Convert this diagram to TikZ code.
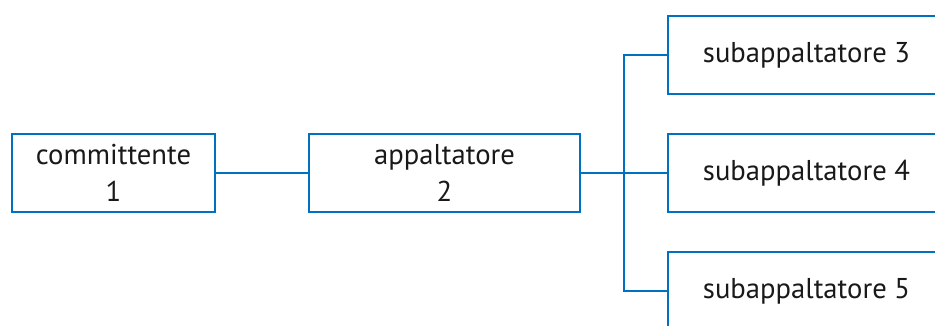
\documentclass[tikz,border=0pt]{standalone}
\usepackage{fontspec}
\setmainfont{PT Sans}
\definecolor{boxblue}{HTML}{0070C0}
\tikzset{
  box/.style={draw=boxblue, line width=1.9pt, minimum height=58.5pt, inner sep=0pt, align=center, font=\fontsize{21.5}{27.5}\selectfont, text=black!90},
  link/.style={draw=boxblue, line width=1.9pt}
}
\begin{document}
\begin{tikzpicture}[x=0.75pt,y=-0.75pt]
\useasboundingbox (0,0) rectangle (935,325);
\clip (0,0) rectangle (935,325);
\node[box, minimum width=152.25pt] (c1) at (113.5,173) {committente\\1};
\node[box, minimum width=203.25pt] (a2) at (444.5,173) {appaltatore\\2};
\node[box, minimum width=207.75pt] (s3) at (806.5,55) {subappaltatore 3};
\node[box, minimum width=207.75pt] (s4) at (806.5,173) {subappaltatore 4};
\node[box, minimum width=207.75pt] (s5) at (806.5,291) {subappaltatore 5};
\coordinate (j) at (624,173);
\draw[link] (c1.east) -- (a2.west);
\draw[link] (a2.east) -- (j) -- (s4.west);
\draw[link] (j) |- (s3.west);
\draw[link] (j) |- (s5.west);
\end{tikzpicture}
\end{document}
